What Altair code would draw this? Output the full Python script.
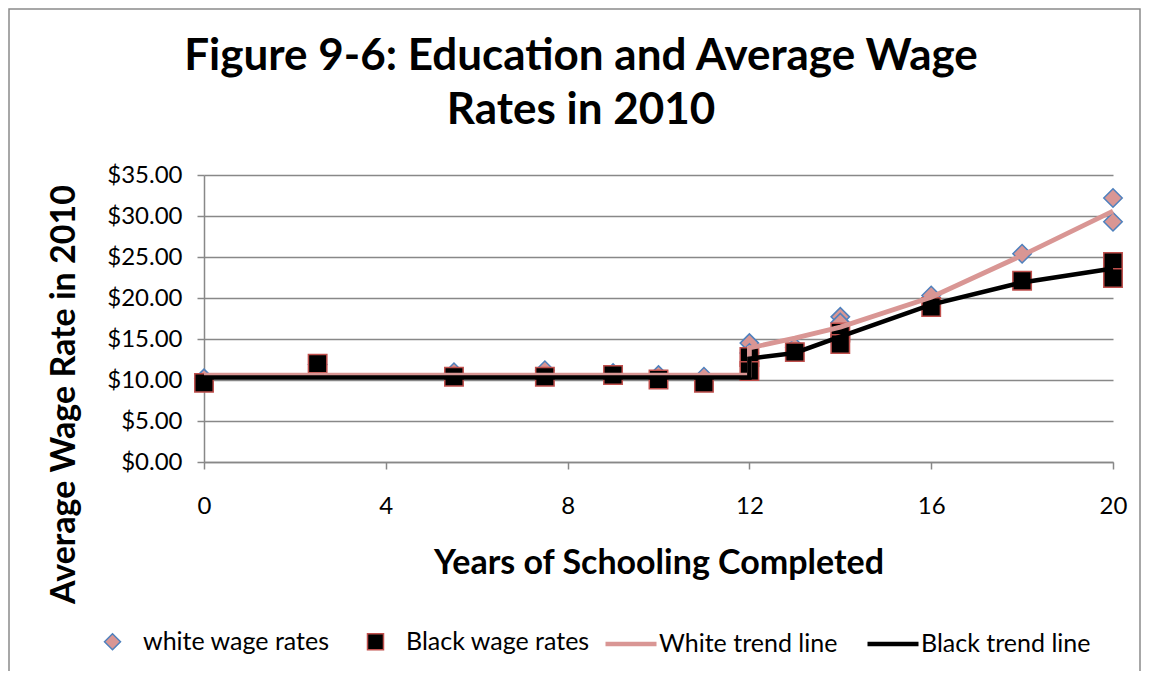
import altair as alt
import pandas as pd

# ---- data ----
white_x = [0, 2.5, 5.5, 7.5, 9, 10, 11, 12, 12, 13, 14, 14, 16, 18, 20, 20]
white_y = [10.2, 11.9, 10.95, 11.2, 10.85, 10.6, 10.4, 14.5, 13.3, 14.0, 17.7, 17.0, 20.3, 25.4, 32.2, 29.3]

black_x = [0, 2.5, 5.5, 7.5, 9, 10, 11, 12, 12, 13, 14, 14, 16, 18, 20, 20]
black_y = [9.65, 12.0, 10.4, 10.4, 10.6, 10.05, 9.65, 12.8, 11.1, 13.4, 15.8, 14.4, 18.9, 22.1, 24.4, 22.45]

white_trend_x = [0, 12, 12, 13, 14, 16, 18, 20]
white_trend_y = [10.6, 10.6, 13.9, 15.1, 16.45, 20.1, 25.2, 30.6]

black_trend_x = [0, 12, 12, 13, 14, 16, 18, 20]
black_trend_y = [10.3, 10.3, 12.6, 13.3, 15.3, 19.2, 21.9, 23.6]

point_series = ["white wage rates", "Black wage rates"]
trend_series = ["White trend line", "Black trend line"]

x_ticks = [0, 4, 8, 12, 16, 20]
y_ticks = [0, 5, 10, 15, 20, 25, 30, 35]

title_lines = ["Figure 9-6: Education and Average Wage", "Rates in 2010"]
x_title = "Years of Schooling Completed"
y_title = "Average Wage Rate in 2010"

# ---- tables ----
pts = pd.DataFrame({
    "years": white_x + black_x,
    "wage": white_y + black_y,
    "series": [point_series[0]] * len(white_x) + [point_series[1]] * len(black_x),
})
trend = pd.DataFrame({
    "years": white_trend_x + black_trend_x,
    "wage": white_trend_y + black_trend_y,
    "trend": [trend_series[0]] * len(white_trend_x) + [trend_series[1]] * len(black_trend_x),
    "ord": list(range(len(white_trend_x))) + list(range(len(black_trend_x))),
})

FONT = "Lato"
GRAY = "#888888"

xs = alt.Scale(domain=[0, 20], nice=False, zero=False)
ys = alt.Scale(domain=[0, 35], nice=False)

x_enc = alt.X("years:Q", scale=xs, title=x_title,
              axis=alt.Axis(values=x_ticks, format="d", grid=False, labelFlush=False,
                            titleBaseline="alphabetic", titleY=111,
                            labelBaseline="alphabetic", labelPadding=44))
y_enc = alt.Y("wage:Q", scale=ys, title=y_title,
              axis=alt.Axis(values=y_ticks, format="$.2f", grid=True, labelFlush=False,
                            titleBaseline="alphabetic", titleX=-130, titleY=219,
                            titleAngle=-90, titleAlign="center",
                            labelPadding=15))

pt_legend = alt.Legend(title=None, orient="none", legendX=-104, legendY=454,
                       direction="horizontal", symbolSize=256, symbolStrokeWidth=1.5,
                       labelOffset=18, columnPadding=33, padding=0)
ln_legend = alt.Legend(title=None, orient="none", legendX=399, legendY=441,
                       direction="horizontal", symbolType="stroke", symbolSize=2601,
                       symbolStrokeWidth=4.5, labelOffset=0, columnPadding=20, padding=0)

points = alt.Chart(pts).mark_point(filled=True, strokeWidth=1.5, opacity=1, fillOpacity=1, size=340).encode(
    x=x_enc,
    y=y_enc,
    shape=alt.Shape("series:N", scale=alt.Scale(domain=point_series, range=["diamond", "square"]), legend=pt_legend),
    fill=alt.Fill("series:N", scale=alt.Scale(domain=point_series, range=["#D99694", "#000000"]), legend=pt_legend),
    stroke=alt.Stroke("series:N", scale=alt.Scale(domain=point_series, range=["#4F81BD", "#C0504D"]), legend=pt_legend),
)

color_scale = alt.Scale(domain=trend_series, range=["#D99694", "#000000"])

white_line = alt.Chart(trend).transform_filter(
    alt.datum.trend == trend_series[0]
).mark_line(strokeWidth=4.8).encode(
    x="years:Q", y="wage:Q", order="ord:Q",
    color=alt.Color("trend:N", scale=color_scale, legend=ln_legend),
)
black_line = alt.Chart(trend).transform_filter(
    alt.datum.trend == trend_series[1]
).mark_line(strokeWidth=4.5).encode(
    x="years:Q", y="wage:Q", order="ord:Q",
    color=alt.Color("trend:N", scale=color_scale, legend=ln_legend),
)

def title_line(text, y):
    return alt.Chart(pd.DataFrame({"a": [0]})).mark_text(
        font=FONT, fontSize=44, fontWeight="bold", color="black",
        align="center", baseline="alphabetic", text=text
    ).encode(x=alt.value(377), y=alt.value(y))

title1 = title_line(title_lines[0], -105)
title2 = title_line(title_lines[1], -51)

frame = alt.Chart(pd.DataFrame({"a": [0]})).mark_rect(
    filled=False, stroke="#8a8a8a", strokeWidth=1.5
).encode(
    x=alt.value(-195), x2=alt.value(936), y=alt.value(-166), y2=alt.value(560)
)

chart = alt.layer(frame, title1, title2, points, white_line, black_line).properties(
    width=909, height=287,
    autosize=alt.AutoSizeParams(type="none"),
    padding={"left": 196, "top": 167, "right": 29, "bottom": 209},
).configure_view(stroke=None).configure_axis(
    domainColor=GRAY, domainWidth=1.5, tickColor=GRAY, tickWidth=1.5, tickSize=7,
    gridColor=GRAY, gridWidth=1.5, labelFont=FONT, labelFontSize=24, labelColor="black",
    titleFont=FONT, titleFontSize=34, titleFontWeight="bold", titleColor="black",
).configure_legend(
    labelFont=FONT, labelFontSize=25, labelColor="black", labelLimit=400,
)

chart.save("out.html", embed_options={"renderer": "svg", "actions": False})
